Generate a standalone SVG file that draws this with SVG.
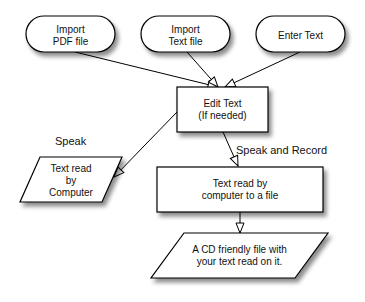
<svg xmlns="http://www.w3.org/2000/svg" width="365" height="302" viewBox="0 0 365 302">
<defs>
<filter id="sh" x="-20%" y="-20%" width="150%" height="160%">
<feDropShadow dx="3" dy="4" stdDeviation="2" flood-color="#000" flood-opacity="0.45"/>
</filter>
<marker id="arr" markerUnits="userSpaceOnUse" markerWidth="12" markerHeight="10" viewBox="0 0 12 10" refX="11" refY="5" orient="auto">
<path d="M1,1 L11,5 L1,9 Z" fill="#fff" stroke="#000" stroke-width="1"/>
</marker>
<style>
.n{fill:#fff;stroke:#000;stroke-width:1.2;filter:url(#sh)}
.t{font-family:"Liberation Sans",Arial,sans-serif;font-size:10px;fill:#111;text-anchor:middle}
.l{font-family:"Liberation Sans",Arial,sans-serif;font-size:11px;fill:#111}
.c{fill:none;stroke:#000;stroke-width:1;marker-end:url(#arr)}
</style>
</defs>
<rect width="365" height="302" fill="#fff"/>
<g id="connectors">
<line class="c" x1="75" y1="52" x2="218" y2="87"/>
<line class="c" x1="187" y1="52" x2="218" y2="87"/>
<line class="c" x1="300" y1="52" x2="225" y2="87"/>
<line class="c" x1="177" y1="112" x2="114" y2="177"/>
<line class="c" x1="223" y1="132" x2="238" y2="166"/>
<line class="c" x1="240" y1="212" x2="240" y2="233"/>
<text class="l" x="55" y="145">Speak</text>
<text class="l" x="236" y="154">Speak and Record</text>
</g>
<g id="import-pdf">
<rect class="n" x="26" y="16" width="89" height="36" rx="18" ry="18"/>
<text class="t" x="70.5" y="33">Import</text>
<text class="t" x="70.5" y="45">PDF file</text>
</g>
<g id="import-text">
<rect class="n" x="141" y="16" width="89" height="36" rx="18" ry="18"/>
<text class="t" x="185.5" y="33">Import</text>
<text class="t" x="185.5" y="45">Text file</text>
</g>
<g id="enter-text">
<rect class="n" x="256" y="16" width="89" height="36" rx="18" ry="18"/>
<text class="t" x="300.5" y="39">Enter Text</text>
</g>
<g id="edit-text">
<rect class="n" x="177" y="87" width="91" height="45"/>
<text class="t" x="222.5" y="107">Edit Text</text>
<text class="t" x="222.5" y="119">(If needed)</text>
</g>
<g id="read-by-computer">
<polygon class="n" points="40,157 122,157 102,202 20,202"/>
<text class="t" x="71" y="172">Text read</text>
<text class="t" x="71" y="184">by</text>
<text class="t" x="71" y="196">Computer</text>
</g>
<g id="read-to-file">
<rect class="n" x="157" y="167" width="166" height="45"/>
<text class="t" x="240" y="187">Text read by</text>
<text class="t" x="240" y="199">computer to a file</text>
</g>
<g id="cd-file">
<polygon class="n" points="184,233 328,233 295,278 151,278"/>
<text class="t" x="239.5" y="253">A CD friendly file with</text>
<text class="t" x="239.5" y="265">your text read on it.</text>
</g>
</svg>
